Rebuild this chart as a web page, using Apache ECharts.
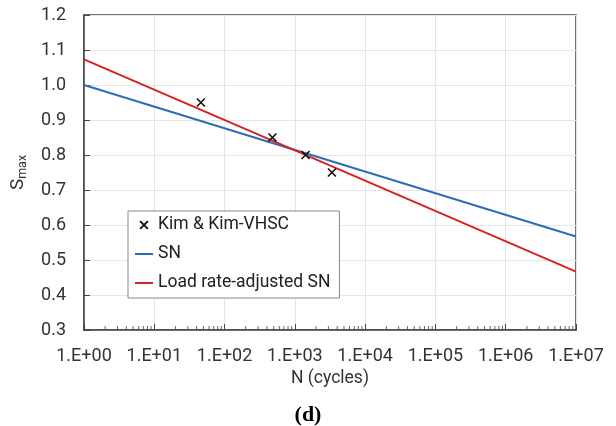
<!DOCTYPE html>
<html>
<head>
<meta charset="utf-8">
<script src="https://cdn.jsdelivr.net/npm/echarts@6/dist/echarts.min.js"></script>
<style>html,body{margin:0;padding:0;background:#fff}#c{width:616px;height:426px}</style>
</head>
<body>
<div id="c"></div>
<script>
// Data
const kimN = [46, 480, 1420, 3370];
const kimS = [0.95, 0.85, 0.80, 0.75];
const lineN = [1, 1e7];
const snS = [1.0, 0.567];
const adjS = [1.073, 0.467];
const seriesNames = ['Kim & Kim-VHSC', 'SN', 'Load rate-adjusted SN'];
const yMin = 0.3, yMax = 1.2, yStep = 0.1;
const xMin = 1, xMax = 1e7;

// log minor tick positions (2..9 within each decade)
const minorTicks = [];
for (let e = 0; e < 7; e++) for (let m = 2; m <= 9; m++) minorTicks.push([m * Math.pow(10, e), yMin]);

const font = 'Roboto, "Liberation Sans", Arial, sans-serif';
const lineIcon = 'path://M0,0M18,14M0,6L18,6L18,8L0,8Z';
const chart = echarts.init(document.getElementById('c'));
chart.setOption({
  animation: false,
  backgroundColor: '#fff',
  title: {
    text: '(d)', left: 'center', top: 399,
    textStyle: { fontFamily: '"Liberation Serif", "Times New Roman", serif', fontWeight: 'bold', fontSize: 22, color: '#000' }
  },
  grid: { left: 84, right: 40, top: 15, bottom: 96, show: true, borderColor: '#444', borderWidth: 1.5, backgroundColor: 'transparent' },
  legend: {
    data: [
      { name: seriesNames[0], icon: 'path://M-4,-4M14,14M0,0L10,10M10,0L0,10' },
      { name: seriesNames[1], icon: lineIcon },
      { name: seriesNames[2], icon: lineIcon }
    ],
    orient: 'vertical', left: 128, top: 211,
    backgroundColor: '#fff', borderColor: '#888', borderWidth: 1,
    padding: [4, 9, 5, 7], itemGap: 9, itemWidth: 18, itemHeight: 14,
    textStyle: { fontFamily: font, fontSize: 17.5, color: '#222', lineHeight: 20 }
  },
  xAxis: {
    type: 'log', logBase: 10, min: xMin, max: xMax, splitNumber: 7,
    name: 'N (cycles)', nameLocation: 'middle', nameGap: 40,
    nameTextStyle: { fontFamily: font, fontSize: 17.5, color: '#333' },
    axisLine: { show: true, lineStyle: { color: '#444', width: 1.5 } },
    axisTick: { show: true, inside: true, length: 6, lineStyle: { color: '#444' } },
    minorTick: { show: false },
    splitLine: { show: true, lineStyle: { color: '#e6e6e6', width: 1 } },
    axisLabel: {
      margin: 17, fontFamily: font, fontSize: 18, color: '#333',
      formatter: v => { const e = Math.round(Math.log10(v)); return '1.E+' + (e < 10 ? '0' : '') + e; }
    }
  },
  yAxis: {
    type: 'value', min: yMin, max: yMax, interval: yStep,
    name: '{s|S}{sub|max}', nameLocation: 'middle', nameGap: 55, nameRotate: 90,
    nameTextStyle: {
      fontFamily: font, color: '#333',
      rich: {
        s: { fontFamily: font, fontSize: 19, color: '#333' },
        sub: { fontFamily: font, fontSize: 12.5, color: '#333', padding: [8, 0, 0, 0] }
      }
    },
    axisLine: { show: true, lineStyle: { color: '#444', width: 1.5 } },
    axisTick: { show: true, inside: true, length: 6, lineStyle: { color: '#444' } },
    splitLine: { show: true, lineStyle: { color: '#e6e6e6', width: 1 } },
    axisLabel: { margin: 18, fontFamily: font, fontSize: 18, color: '#333', formatter: v => v.toFixed(1) }
  },
  series: [
    {
      name: seriesNames[1], type: 'line', symbol: 'none', showSymbol: false,
      data: lineN.map((n, i) => [n, snS[i]]),
      lineStyle: { color: '#2E6DB4', width: 2 }, itemStyle: { color: '#2E6DB4' }, z: 3
    },
    {
      name: seriesNames[2], type: 'line', symbol: 'none', showSymbol: false,
      data: lineN.map((n, i) => [n, adjS[i]]),
      lineStyle: { color: '#D92121', width: 2 }, itemStyle: { color: '#D92121' }, z: 4
    },
    {
      name: seriesNames[0], type: 'scatter',
      symbol: 'path://M0,0L10,10M10,0L0,10', symbolSize: 8,
      data: kimN.map((n, i) => [n, kimS[i]]),
      itemStyle: { color: 'transparent', borderColor: '#111', borderWidth: 1.6, opacity: 1 }, z: 5
    },
    {
      name: 'minorTicks', type: 'scatter', silent: true, clip: false,
      symbol: 'rect', symbolSize: [1, 4], symbolOffset: [0, -2],
      data: minorTicks, itemStyle: { color: '#444' }, z: 2
    }
  ]
});
</script>
</body>
</html>
